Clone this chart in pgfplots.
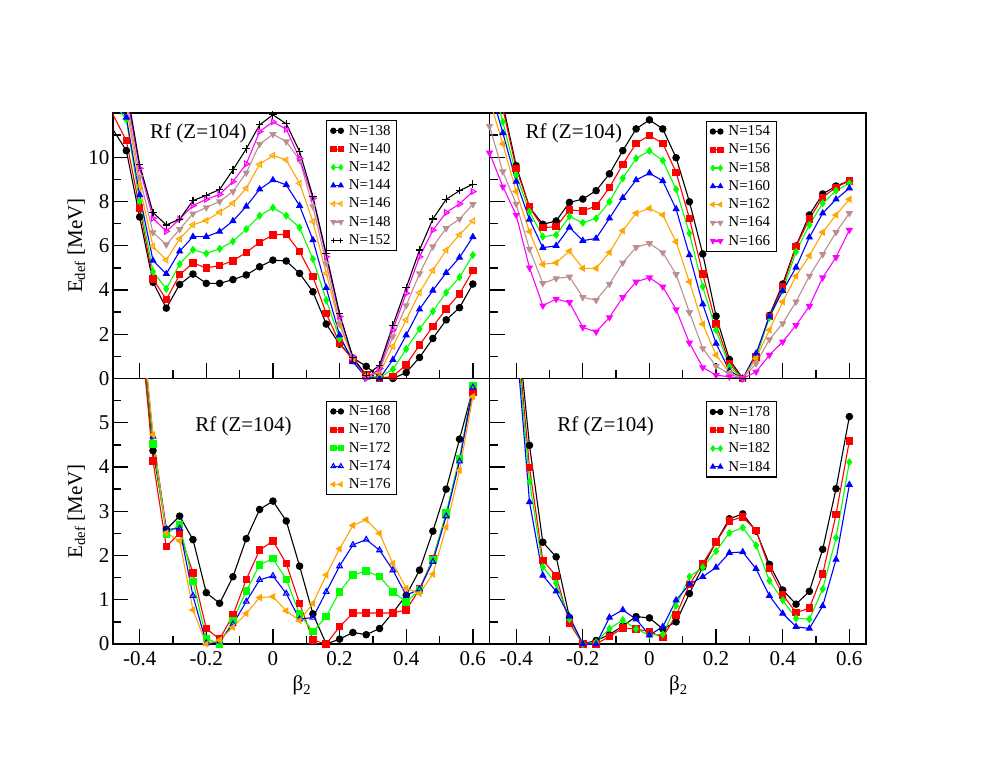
\documentclass[border=0pt]{standalone}
\usepackage{pgfplots}
\pgfplotsset{compat=1.18}
\usepackage{pgfplotstable}
\usepackage{fontspec}
\setmainfont{Liberation Serif}

\definecolor{xred}{RGB}{255,0,0}
\definecolor{xgreen}{RGB}{0,255,0}
\definecolor{xblue}{RGB}{0,0,255}
\definecolor{xorange}{RGB}{255,165,0}
\definecolor{xbrown}{RGB}{188,143,143}
\definecolor{xmag}{RGB}{255,0,255}

\pgfplotstableread{
x N138 N140 N142 N144 N146 N148 N150 N152
-0.52 12.2 13.1 13.3 13.8 14.7 15.4 16.1 16.8
-0.44 10.3 10.75 11.7 11.8 12.3 12.6 12.9 13.2
-0.40 7.3 7.7 8.0 8.3 8.7 9.1 9.5 9.66
-0.36 4.35 4.5 4.83 5.33 5.97 6.6 7.24 7.5
-0.32 3.18 3.57 4.05 4.73 5.35 6.05 6.65 6.94
-0.28 4.25 4.69 5.17 5.75 6.31 6.74 7.21 7.2
-0.24 4.72 5.22 5.82 6.41 6.95 7.45 7.82 8.04
-0.20 4.30 5.0 5.65 6.41 7.14 7.73 8.1 8.28
-0.16 4.30 5.1 5.86 6.64 7.52 8.0 8.32 8.54
-0.12 4.47 5.32 6.2 7.12 7.92 8.45 8.9 9.43
-0.08 4.68 5.7 6.75 7.78 8.6 9.3 9.7 10.38
-0.04 5.05 6.15 7.36 8.55 9.68 10.59 11.16 11.46
0.00 5.35 6.49 7.72 8.97 10.08 11.04 11.6 11.92
0.04 5.31 6.52 7.36 8.75 9.88 10.71 11.27 11.51
0.08 4.75 5.73 6.82 7.81 8.82 9.88 9.95 10.26
0.12 3.92 4.6 5.4 6.26 7.09 7.77 8.14 8.22
0.16 2.46 2.94 3.54 4.1 4.75 5.2 5.5 5.63
0.20 1.55 1.6 1.8 1.96 2.41 2.49 2.8 2.94
0.24 0.93 0.83 0.9 0.75 0.9 0.98 0.98 0.94
0.28 0.55 0.15 0.1 0.05 0.1 0.05 0.0 0.15
0.32 0.08 0.0 0.05 0.0 0.25 0.38 0.45 0.6
0.36 0.0 0.1 0.41 0.85 1.45 1.9 2.2 2.41
0.40 0.27 0.62 1.33 1.96 2.65 3.3 3.85 4.1
0.44 0.95 1.51 2.24 3.13 3.88 4.74 5.5 5.81
0.48 1.81 2.35 3.04 3.98 4.89 5.96 6.71 7.21
0.52 2.65 3.14 3.89 4.78 5.8 6.79 7.5 8.1
0.56 3.2 3.83 4.58 5.47 6.5 7.21 7.89 8.49
0.60 4.27 4.87 5.58 6.4 7.12 7.87 8.45 8.78
}\tabTL

\pgfplotstableread{
x N154 N156 N158 N160 N162 N164 N166
-0.48 14.5 14.3 13.8 13.2 12.6 11.4 10.2
-0.44 12.4 12.2 11.6 11.1 10.6 9.35 8.67
-0.40 9.62 9.5 9.2 8.9 8.45 7.89 7.39
-0.36 7.74 7.74 7.54 7.19 6.64 5.85 5.01
-0.32 6.97 6.82 6.41 5.91 5.16 4.3 3.29
-0.28 7.12 6.86 6.49 6.0 5.23 4.52 3.59
-0.24 7.96 7.62 7.32 6.83 5.76 4.6 3.44
-0.20 8.11 7.57 7.04 6.23 4.98 3.67 2.31
-0.16 8.49 7.8 7.24 6.33 4.98 3.54 2.11
-0.12 9.25 8.63 7.99 7.24 5.7 4.27 2.76
-0.08 10.3 9.68 9.05 8.17 6.68 5.23 3.67
-0.04 11.28 10.63 9.95 8.97 7.47 5.93 4.37
0.00 11.69 10.98 10.29 9.28 7.69 6.11 4.56
0.04 11.28 10.63 9.85 8.93 7.39 5.69 4.15
0.08 9.98 9.32 8.55 7.66 6.18 4.71 3.12
0.12 7.99 7.24 6.56 5.58 4.37 2.99 1.61
0.16 5.63 4.72 4.15 3.36 2.46 1.36 0.5
0.20 2.82 2.46 2.19 1.58 1.06 0.56 0.15
0.24 0.86 0.68 0.53 0.35 0.26 0.2 0.08
0.28 0 0 0 0 0 0 0
0.32 0.98 0.98 1.01 1.13 0.9 0.68 0.3
0.36 2.85 2.8 2.75 2.8 2.19 1.76 1.06
0.40 4.27 4.15 3.97 3.97 3.47 2.49 1.66
0.44 5.99 5.96 5.73 5.02 4.63 3.47 2.41
0.48 7.39 7.21 6.94 6.38 5.55 4.63 3.27
0.52 8.34 8.19 7.92 7.47 6.61 5.61 4.56
0.56 8.7 8.64 8.49 8.1 7.39 6.61 5.48
0.60 8.93 8.93 8.82 8.6 8.1 7.47 6.71
}\tabTR

\pgfplotstableread{
x N168 N170 N172 N174 N176
-0.44 11 11 11 11 11
-0.40 7.5 7.4 7.6 7.7 7.8
-0.36 4.37 4.14 4.52 4.69 4.73
-0.32 2.59 2.2 2.48 2.59 2.51
-0.28 2.89 2.51 2.7 2.61 2.33
-0.24 2.36 1.61 1.41 1.09 0.77
-0.20 1.16 0.35 0.13 0.02 0.0
-0.16 0.92 0.11 0.0 0.06 0.09
-0.12 1.52 0.65 0.53 0.45 0.38
-0.08 2.38 1.46 1.2 0.96 0.69
-0.04 3.04 2.12 1.79 1.45 1.05
0.00 3.23 2.33 1.93 1.54 1.07
0.04 2.78 1.82 1.46 1.14 0.75
0.08 1.76 0.92 0.68 0.56 0.53
0.12 0.68 0.09 0.28 0.6 0.92
0.16 0.0 0.0 0.62 1.18 1.56
0.20 0.11 0.39 1.18 1.76 2.15
0.24 0.26 0.7 1.56 2.24 2.68
0.28 0.21 0.7 1.65 2.36 2.81
0.32 0.35 0.7 1.52 2.12 2.5
0.36 0.71 0.7 1.18 1.67 1.82
0.40 1.1 0.77 0.95 1.1 1.26
0.44 1.67 1.24 1.22 1.24 1.14
0.48 2.55 1.93 1.91 1.86 1.58
0.52 3.5 2.93 2.96 2.89 2.64
0.56 4.63 4.19 4.19 4.13 3.92
0.60 5.76 5.69 5.84 5.8 5.59
}\tabBL

\pgfplotstableread{
x N178 N180 N182 N184
-0.44 10.5 10.3 10.0 9.8
-0.40 7.5 7.3 7.1 6.9
-0.36 4.49 3.99 3.68 3.21
-0.32 2.3 1.89 1.74 1.55
-0.28 1.97 1.54 1.37 1.19
-0.24 0.6 0.47 0.56 0.62
-0.20 0 0 0 0
-0.16 0.08 0.0 0.04 0.0
-0.12 0.21 0.17 0.35 0.6
-0.08 0.41 0.36 0.54 0.77
-0.04 0.62 0.34 0.34 0.56
0.00 0.59 0.28 0.2 0.2
0.04 0.34 0.15 0.22 0.39
0.08 0.5 0.65 0.86 0.99
0.12 1.14 1.34 1.52 1.35
0.16 1.74 1.82 1.73 1.52
0.20 2.31 2.3 2.1 1.73
0.24 2.83 2.78 2.51 2.06
0.28 2.94 2.87 2.63 2.08
0.32 2.55 2.57 2.23 1.7
0.36 1.8 1.71 1.43 1.09
0.40 1.22 1.11 0.99 0.69
0.44 0.9 0.71 0.58 0.39
0.48 1.19 0.81 0.56 0.35
0.52 2.14 1.58 1.24 0.86
0.56 3.51 2.93 2.4 1.91
0.60 5.14 4.59 4.11 3.6
}\tabBR

\pgfplotsset{
  panel/.style={
    scale only axis, width=376.5pt, height=265.5pt,
    xmin=-0.48, xmax=0.65,
    axis line style={line width=1.6pt},
    tick align=inside, xtick pos=left, ytick pos=left,
    major tick length=15pt, minor tick length=8pt,
    every tick/.style={line width=1.3pt, black},
    xtick={-0.4,-0.2,0,0.2,0.4,0.6},
    minor xtick={-0.3,-0.1,0.1,0.3,0.5},
    tick label style={font=\fontsize{21}{24}\selectfont},
    /pgf/number format/assume math mode=true,
    label style={font=\fontsize{21}{24}\selectfont},
    every axis plot/.append style={line width=1.1pt, mark size=3.2pt},
    legend image code/.code={\draw[#1, line width=1.1pt, mark size=2.6pt] plot coordinates {(0pt,0pt) (7.5pt,0pt)}; \path (13pt,0pt);},
    legend style={anchor=north west, draw=black, line width=1.3pt,
      font=\fontsize{15}{17}\selectfont, cells={anchor=west},
      inner xsep=4pt, inner ysep=2.5pt, row sep=2.8pt},
    legend cell align=left,
  },
  top/.style={panel, ymin=0, ymax=12, ytick={0,2,4,6,8,10}, minor ytick={1,3,5,7,9,11}, xticklabels={}},
  bot/.style={panel, ymin=0, ymax=6, ytick={0,1,2,3,4,5}, minor ytick={0.5,1.5,2.5,3.5,4.5,5.5},
    xlabel={β\textsubscript{2}},
    x label style={at={(axis description cs:0.502,-0.177)}, anchor=base},
    xticklabel style={yshift=-4pt}},
  ylab/.style={ylabel={E\textsubscript{def} [MeV]},
    y label style={at={(axis description cs:-0.0823,0.5)}, anchor=base}},
  rlab/.style={yticklabels={}},
}

\newcommand{\rf}[2]{\node[anchor=base west, font=\fontsize{21}{24}\selectfont, inner sep=0pt] at (rel axis cs:#1,#2) {Rf (Z=104)};}

\begin{document}
\begin{tikzpicture}
\path[use as bounding box] (0,0) rectangle (981pt,758pt);

% top-left
\begin{axis}[top, ylab, at={(113pt,379.5pt)}, anchor=south west,
  legend style={at={(0.566,0.974)}}]
\addplot[color=black, mark=*] table[x=x,y=N138] {\tabTL}; \addlegendentry{N=138}
\addplot[color=xred, mark=square*] table[x=x,y=N140] {\tabTL}; \addlegendentry{N=140}
\addplot[color=xgreen, mark=diamond*] table[x=x,y=N142] {\tabTL}; \addlegendentry{N=142}
\addplot[color=xblue, mark=triangle*] table[x=x,y=N144] {\tabTL}; \addlegendentry{N=144}
\addplot[color=xorange, mark=triangle, mark options={rotate=90, fill=white}] table[x=x,y=N146] {\tabTL}; \addlegendentry{N=146}
\addplot[color=xbrown, mark=triangle*, mark options={rotate=180}] table[x=x,y=N148] {\tabTL}; \addlegendentry{N=148}
\addplot[color=xmag, mark=triangle, mark options={rotate=-90, fill=white}, forget plot] table[x=x,y=N150] {\tabTL};
\addplot[color=black, mark=+, mark size=3.8pt] table[x=x,y=N152] {\tabTL}; \addlegendentry{N=152}
\rf{0.0983}{0.905}
\end{axis}

% top-right
\begin{axis}[top, rlab, at={(489.5pt,379.5pt)}, anchor=south west,
  legend style={at={(0.574,0.971)}}]
\addplot[color=black, mark=*] table[x=x,y=N154] {\tabTR}; \addlegendentry{N=154}
\addplot[color=xred, mark=square*] table[x=x,y=N156] {\tabTR}; \addlegendentry{N=156}
\addplot[color=xgreen, mark=diamond*] table[x=x,y=N158] {\tabTR}; \addlegendentry{N=158}
\addplot[color=xblue, mark=triangle*] table[x=x,y=N160] {\tabTR}; \addlegendentry{N=160}
\addplot[color=xorange, mark=triangle*, mark options={rotate=90}] table[x=x,y=N162] {\tabTR}; \addlegendentry{N=162}
\addplot[color=xbrown, mark=triangle*, mark options={rotate=180}] table[x=x,y=N164] {\tabTR}; \addlegendentry{N=164}
\addplot[color=xmag, mark=triangle*, mark options={rotate=180}] table[x=x,y=N166] {\tabTR}; \addlegendentry{N=166}
\rf{0.0956}{0.905}
\end{axis}

% bottom-left
\begin{axis}[bot, ylab, at={(113pt,114pt)}, anchor=south west,
  legend style={at={(0.566,0.917)}}]
\addplot[color=black, mark=*] table[x=x,y=N168] {\tabBL}; \addlegendentry{N=168}
\addplot[color=xred, mark=square*] table[x=x,y=N170] {\tabBL}; \addlegendentry{N=170}
\addplot[color=xgreen, mark=square*] table[x=x,y=N172] {\tabBL}; \addlegendentry{N=172}
\addplot[color=xblue, mark=triangle, mark options={fill=white}] table[x=x,y=N174] {\tabBL}; \addlegendentry{N=174}
\addplot[color=xorange, mark=triangle*, mark options={rotate=90}] table[x=x,y=N176] {\tabBL}; \addlegendentry{N=176}
\rf{0.218}{0.801}
\end{axis}

% bottom-right
\begin{axis}[bot, rlab, at={(489.5pt,114pt)}, anchor=south west,
  legend style={at={(0.574,0.915)}}]
\addplot[color=black, mark=*] table[x=x,y=N178] {\tabBR}; \addlegendentry{N=178}
\addplot[color=xred, mark=square*] table[x=x,y=N180] {\tabBR}; \addlegendentry{N=180}
\addplot[color=xgreen, mark=diamond*] table[x=x,y=N182] {\tabBR}; \addlegendentry{N=182}
\addplot[color=xblue, mark=triangle*] table[x=x,y=N184] {\tabBR}; \addlegendentry{N=184}
\rf{0.18}{0.80}
\end{axis}
\end{tikzpicture}
\end{document}
